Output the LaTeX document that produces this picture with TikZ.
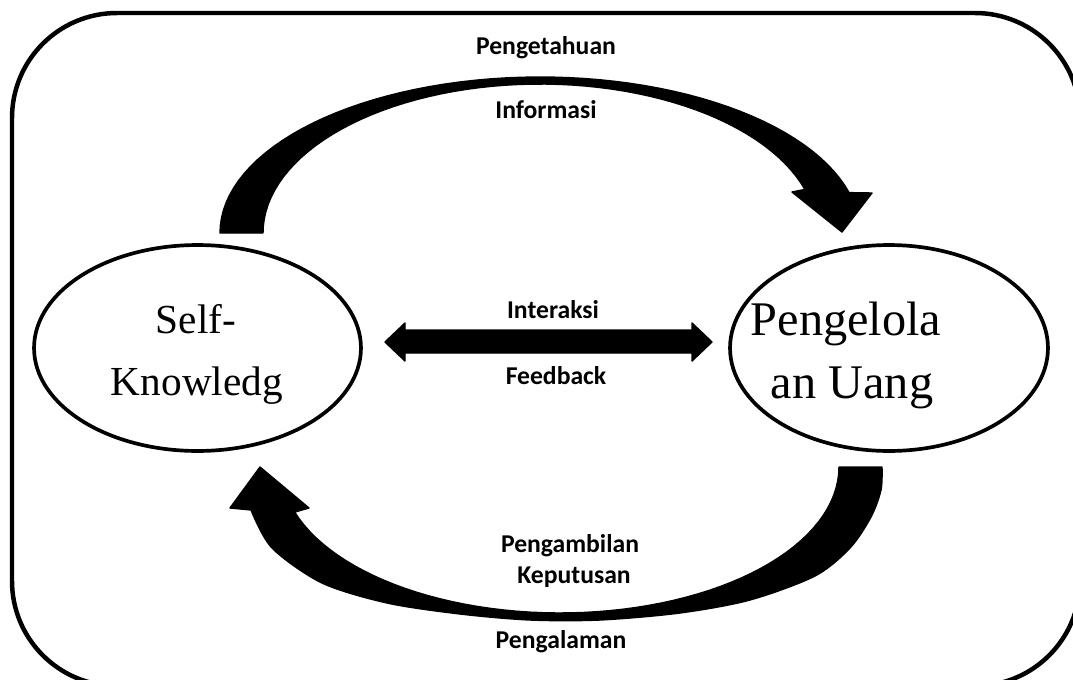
\documentclass[tikz,border=0pt]{standalone}
\usepackage{fontspec}
\setmainfont{Liberation Serif}
\newfontfamily\labelfont{Carlito}
\usetikzlibrary{shapes.geometric}
\begin{document}
\begin{tikzpicture}[x=0.02cm,y=-0.02cm,
  lbl/.style={font=\labelfont\bfseries\fontsize{14.6}{17}\selectfont, inner sep=0pt, anchor=base},
  etext/.style={font=\fontsize{23.5}{28}\selectfont, inner sep=0pt, anchor=base},
  etextbig/.style={font=\fontsize{27.5}{32}\selectfont, inner sep=0pt, anchor=base},
  oval/.style={draw, ellipse, line width=2.1pt, minimum width=6.54cm, minimum height=4.12cm, inner sep=0pt},
  blk/.style={fill=black, draw=black, line width=0.8pt, line join=round}]
\useasboundingbox (0,0) rectangle (1073,680);
\clip (0,0) rectangle (1073,680);
% frame
\draw[line width=2.55pt, rounded corners=2.1cm] (12,13) rectangle (1080,686);
% ellipses
\node[oval] (sk) at (197.5,348) {};
\node[oval, minimum width=6.36cm] (pu) at (889,348) {};
\node[etext] (sk1) at (196,333) {Self-};
\node[etext] (sk2) at (197,395) {Knowledg};
\node[etextbig] (pu1) at (846,335) {Pengelola};
\node[etextbig] (pu2) at (852,398) {an Uang};
% top curved arrow
\filldraw[blk] (220,233) -- plot[domain=180:345,samples=60] ({540+320*cos(\x)},{233+156*sin(\x)})
  -- (872,193) -- (842,232) -- (792,192)
  -- plot[domain=343:180,samples=60] ({540+277*cos(\x)},{233+149*sin(\x)}) -- cycle;
% bottom curved arrow
\filldraw[blk] (839,467) -- (882,467) -- plot[smooth] coordinates {(882,467) (881,490) (871,517) (850,548) (815,576) (750,600) (680,613) (600,620) (530,620) (460,614) (387,603) (322,583) (272,548) (251,510)}
  -- (230,508) -- (260,467) -- (309,508)
  -- plot[domain=162:0,samples=60] ({560+279*cos(\x)},{467+146*sin(\x)}) -- cycle;
% double arrow
\filldraw[blk] (385,342) -- (405,323) -- (405,330) -- (692,330) -- (692,323) -- (712,342)
  -- (692,361) -- (692,353) -- (405,353) -- (405,361) -- cycle;
% labels
\node[lbl] (l1) at (546,54) {Pengetahuan};
\node[lbl] (l2) at (546,118) {Informasi};
\node[lbl] (l3) at (553,318) {Interaksi};
\node[lbl] (l4) at (556,384) {Feedback};
\node[lbl] (l5) at (570,552) {Pengambilan};
\node[lbl] (l6) at (574,583) {Keputusan};
\node[lbl] (l7) at (561,648) {Pengalaman};
\end{tikzpicture}
\end{document}
